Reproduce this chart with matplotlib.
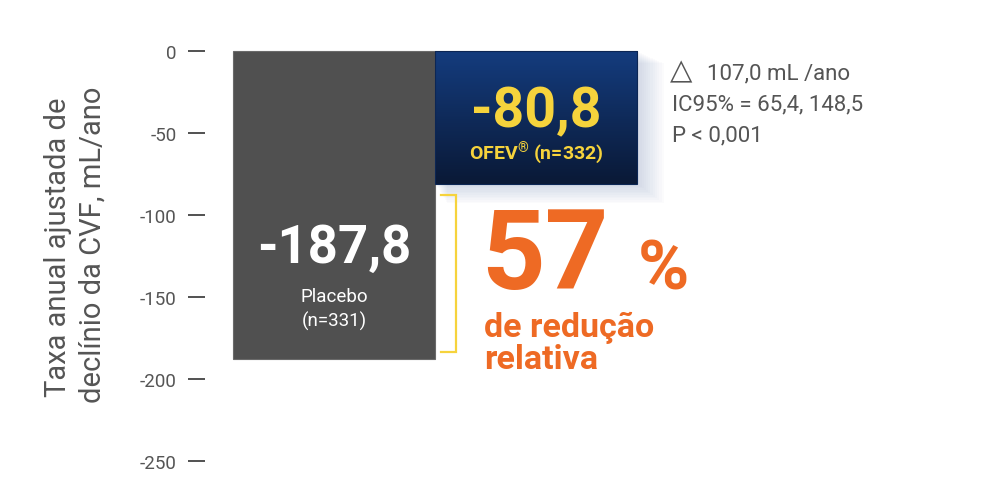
import numpy as np
import matplotlib
matplotlib.use('Agg')
import matplotlib.pyplot as plt
from matplotlib.patches import Rectangle
from matplotlib.colors import LinearSegmentedColormap

# data
groups = ['Placebo', 'OFEV']
values = [-187.8, -80.8]
group_labels = ['Placebo\n(n=331)', 'OFEV$^{\\mathrm{®}}$ (n=332)']
value_labels = ['-187,8', '-80,8']
yticks = [0, -50, -100, -150, -200, -250]
stats_lines = ['107,0 mL /ano', 'IC95% = 65,4, 148,5', 'P < 0,001']
reduction = '57'

W, H = 991, 485
plt.rcParams['font.family'] = ['Roboto', 'DejaVu Sans']
plt.rcParams['mathtext.fontset'] = 'custom'
plt.rcParams['mathtext.rm'] = 'Roboto:bold'
plt.rcParams['mathtext.it'] = 'Roboto:bold'
plt.rcParams['mathtext.bf'] = 'Roboto:bold'

fig = plt.figure(figsize=(W / 100, H / 100), dpi=100)
fig.patch.set_facecolor('white')

def fx(px):
    return px / W

def fy(py):
    return 1 - py / H

# axes placed so that 0 sits at y=52px and -250 at y=462px
ax = fig.add_axes([fx(205), fy(470.2), fx(991 - 205), (470.2 - 43.8) / H])
ax.set_ylim(-255, 5)
ax.set_xlim(-0.639, 3.252)

grey = '#505050'
navy_top = '#143c7e'
navy_bot = '#0a1936'

# placebo bar
ax.bar(0, values[0], width=1.0, color=grey, edgecolor='#6a6a6a', linewidth=0.8, zorder=2)

# soft shadow around the OFEV bar (mostly below it)
for i in range(12):
    g = 0.01 * (i + 1)
    ax.add_patch(Rectangle((0.5 + g * 0.5, values[1] - g * 100), 1.0 + g * 0.6, -values[1] + g * 40,
                           facecolor='#8fa3c4', edgecolor='none', alpha=0.035, zorder=1))

# OFEV bar with vertical gradient
cmap = LinearSegmentedColormap.from_list('navy', [navy_top, navy_bot])
grad = np.linspace(0, 1, 256).reshape(-1, 1)
ax.imshow(grad, cmap=cmap, extent=(0.5, 1.5, values[1], 0), aspect='auto', zorder=3,
          interpolation='bicubic')
ax.add_patch(Rectangle((0.5, values[1]), 1.0, -values[1], fill=False, edgecolor='#0c2654',
                       linewidth=0.8, zorder=4))
ax.set_ylim(-255, 5)
ax.set_xlim(-0.639, 3.252)

# axis styling
for s in ax.spines.values():
    s.set_visible(False)
ax.set_xticks([])
ax.set_yticks(yticks)
ax.set_yticklabels([str(t) for t in yticks])
ax.tick_params(axis='y', length=12.5, width=1.2, color='#333333', pad=8,
               labelsize=13.5, labelcolor='#555555')
ax.patch.set_alpha(0)

# y label
fig.text(fx(58), fy(247), 'Taxa anual ajustada de', rotation=90, ha='center', va='center',
         fontsize=21, color='#555555')
fig.text(fx(93), fy(245), 'declínio da CVF, mL/ano', rotation=90, ha='center', va='center',
         fontsize=21, color='#555555')

# bar labels
ax.text(0, -120, value_labels[0], ha='center', va='center', fontsize=38, fontweight='bold',
        color='white', zorder=5)
ax.text(0, -157, group_labels[0], ha='center', va='center', fontsize=13.5, color='white',
        linespacing=1.35, zorder=5)
yellow = '#f6d33c'
ax.text(1, -37, value_labels[1], ha='center', va='center', fontsize=40, fontweight='bold',
        color=yellow, zorder=5)
ax.text(1, -61.5, group_labels[1], ha='center', va='center', fontsize=14, fontweight='bold',
        color=yellow, zorder=5)

# bracket between the two bars
bx0, bx1 = 0.53, 0.604
btop, bbot = values[1] - 7, values[0] + 4.3
ax.plot([bx0, bx1, bx1, bx0], [btop, btop, bbot, bbot], color=yellow, lw=1.6, zorder=5,
        solid_joinstyle='miter')

# relative reduction
orange = '#ee6a24'
fig.text(fx(481), fy(289), reduction, ha='left', va='baseline', fontsize=80, fontweight='bold',
         color=orange)
fig.text(fx(638), fy(289), '%', ha='left', va='baseline', fontsize=50, fontweight='bold',
         color=orange)
fig.text(fx(484), fy(337), 'de redução', ha='left', va='baseline', fontsize=24.5, fontweight='bold',
         color=orange)
fig.text(fx(484), fy(369), 'relativa', ha='left', va='baseline', fontsize=24.5, fontweight='bold',
         color=orange)

# stats
fig.text(fx(670), fy(79), '△', ha='left', va='baseline', fontsize=21, color='#555555',
         family=['DejaVu Sans'])
fig.text(fx(707), fy(79), stats_lines[0], ha='left', va='baseline', fontsize=16, color='#555555')
for i, line in enumerate(stats_lines[1:]):
    fig.text(fx(672), fy(79 + (i + 1) * 31), line, ha='left', va='baseline', fontsize=16,
             color='#555555')

fig.savefig('out.png', dpi=100, facecolor='white')
